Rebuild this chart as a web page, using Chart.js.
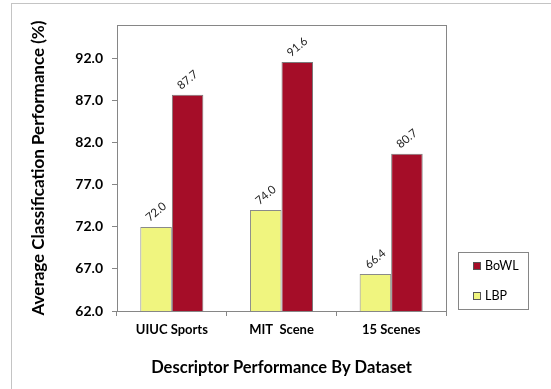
<!DOCTYPE html>
<html>
<head>
<meta charset="utf-8">
<script src="https://cdn.jsdelivr.net/npm/chart.js@4.4.0/dist/chart.umd.min.js"></script>
<style>
  body { margin: 0; background: #fff; }
  #wrap { position: relative; width: 551px; height: 389px; }
  #frame { position: absolute; left: 11px; top: 3px; right: 0; bottom: 0;
           border-left: 1px solid #c4c4c4; border-top: 1px solid #c4c4c4; }
  #chart { position: absolute; left: 0; top: 0; }
</style>
</head>
<body>
<div id="wrap">
  <div id="frame"></div>
  <canvas id="chart" width="551" height="389"></canvas>
</div>
<script>
const datasets = ["UIUC Sports", "MIT  Scene", "15 Scenes"];
const lbpValues = [72.0, 74.0, 66.4];
const bowlValues = [87.7, 91.6, 80.7];
const yTicks = [62, 67, 72, 77, 82, 87, 92];

const FONT = "Lato, 'Open Sans', sans-serif";
const AXIS = "#868686";

// plot frame, rotated value labels and the boxed legend
const extras = {
  id: "extras",
  afterDraw(chart) {
    const { ctx, chartArea: a } = chart;
    ctx.save();
    ctx.strokeStyle = AXIS;
    ctx.lineWidth = 1;
    ctx.strokeRect(Math.round(a.left) + 0.5, Math.round(a.top) + 0.5,
      Math.round(a.right - a.left), Math.round(a.bottom - a.top));

    ctx.fillStyle = "#222";
    ctx.font = "11.5px " + FONT;
    ctx.textAlign = "center";
    ctx.textBaseline = "middle";
    chart.data.datasets.forEach((ds, i) => {
      chart.getDatasetMeta(i).data.forEach((bar, j) => {
        ctx.save();
        ctx.translate(bar.x, bar.y - 15);
        ctx.rotate(-40 * Math.PI / 180);
        ctx.fillText(ds.data[j].toFixed(1), 0, 0);
        ctx.restore();
      });
    });

    // legend
    const lx = Math.round(a.right) + 12, ly = Math.round(a.bottom) - 59;
    ctx.strokeStyle = AXIS;
    ctx.strokeRect(lx + 0.5, ly + 0.5, 70, 57);
    ctx.font = "12.5px " + FONT;
    ctx.textAlign = "left";
    chart.data.datasets.slice().reverse().forEach((ds, k) => {
      const cy = ly + 14 + k * 30;
      ctx.fillStyle = ds.backgroundColor;
      ctx.fillRect(lx + 15, cy - 4, 8, 8);
      ctx.strokeStyle = "#555";
      ctx.strokeRect(lx + 15.5, cy - 3.5, 7, 7);
      ctx.fillStyle = "#000";
      ctx.fillText(ds.label, lx + 27, cy);
    });
    ctx.restore();
  }
};

new Chart(document.getElementById("chart"), {
  type: "bar",
  data: {
    labels: datasets,
    datasets: [
      { label: "LBP", data: lbpValues, backgroundColor: "#F0F57F",
        borderColor: "#8a8a8a", borderWidth: 1 },
      { label: "BoWL", data: bowlValues, backgroundColor: "#A50D28",
        borderColor: "#7a7a7a", borderWidth: 1 }
    ]
  },
  options: {
    responsive: false,
    animation: false,
    layout: { padding: { left: 11, top: 25, right: 105, bottom: 0 } },
    datasets: { bar: { barPercentage: 1, categoryPercentage: 0.575 } },
    plugins: { legend: { display: false }, tooltip: { enabled: false } },
    scales: {
      x: {
        offset: true,
        grid: { offset: true, drawOnChartArea: false, tickLength: 5, color: AXIS },
        border: { color: AXIS },
        ticks: { color: "#000", padding: 6, font: { family: FONT, size: 13, weight: "bold" } },
        title: { display: true, text: "Descriptor Performance By Dataset", color: "#000",
                 font: { family: FONT, size: 16.5, weight: "bold" }, padding: { top: 4, bottom: 11 } },
        afterFit: s => { s.height = 78; }
      },
      y: {
        min: 62,
        max: 96,
        afterBuildTicks: s => { s.ticks = yTicks.map(v => ({ value: v })); },
        grid: { drawOnChartArea: false, tickLength: 5, color: AXIS },
        border: { color: AXIS },
        ticks: { color: "#000", padding: 9, font: { family: FONT, size: 14, weight: "bold" },
                 callback: v => v.toFixed(1) },
        title: { display: true, text: "Average Classification Performance (%)", color: "#000",
                 font: { family: FONT, size: 17, weight: "bold" }, padding: { top: 17, bottom: 0 } },
        afterFit: s => { s.width = 106; }
      }
    }
  },
  plugins: [extras]
});
</script>
</body>
</html>
